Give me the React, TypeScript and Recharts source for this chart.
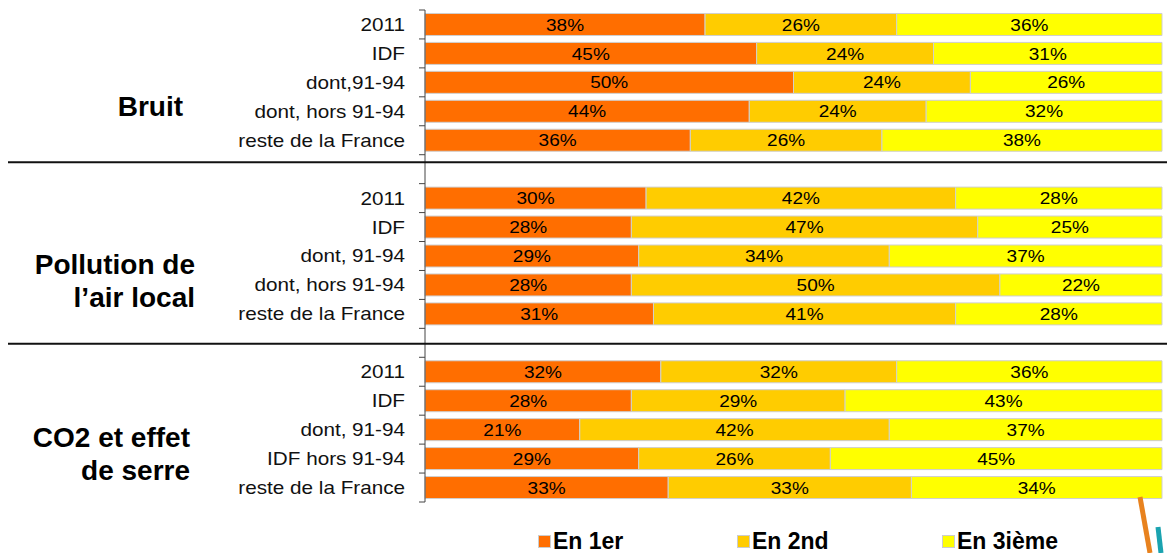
import React from "react";
import { BarChart, Bar, XAxis, YAxis, LabelList } from "recharts";

// ---- data ----
const groupTitles = [["Bruit"], ["Pollution de", "l’air local"], ["CO2 et effet", "de serre"]];

const rowLabels = [
    ["2011", "IDF", "dont,91-94", "dont, hors 91-94", "reste de la France"],
    ["2011", "IDF", "dont, 91-94", "dont, hors 91-94", "reste de la France"],
    ["2011", "IDF", "dont, 91-94", "IDF hors 91-94", "reste de la France"],
];

const first = [
    [38, 45, 50, 44, 36],
    [30, 28, 29, 28, 31],
    [32, 28, 21, 29, 33],
];
const second = [
    [26, 24, 24, 24, 26],
    [42, 47, 34, 50, 41],
    [32, 29, 42, 26, 33],
];
const third = [
    [36, 31, 26, 32, 38],
    [28, 25, 37, 22, 28],
    [36, 43, 37, 45, 34],
];

const seriesNames = ["En 1er", "En 2nd", "En 3ième"];
const seriesKeys = ["first", "second", "third"];
const colors = ["#FF6E00", "#FFCC00", "#FFFF00"];

type Row = {
    id: string;
    label: string;
    group: number;
    idx: number;
    gap?: number;
    first?: number;
    second?: number;
    third?: number;
};

const data: Row[] = [];
rowLabels.forEach((labels, g) => {
    labels.forEach((label, i) => {
        data.push({ id: `g${g}r${i}`, label, group: g, idx: i, first: first[g][i], second: second[g][i], third: third[g][i] });
    });
    if (g < rowLabels.length - 1) data.push({ id: `gap${g}`, label: "", group: g, idx: -1, gap: g });
});

// ---- layout ----
const W = 1167;
const H = 553;
const MARGIN = { top: 10, right: 5, bottom: 51, left: 0 };
const AXIS_W = 425;
const BAND = (H - MARGIN.top - MARGIN.bottom) / data.length;
const FONT = "'Liberation Sans', Arial, sans-serif";
const titleRight = [183, 195, 190];
const sepOffset = [-7, 1];
const legendX = [538, 737, 942];

function RowTick(props: any) {
    const { y, payload } = props;
    const row = data.find((d) => d.id === payload.value);
    if (!row) return null;
    const ax = MARGIN.left + AXIS_W;
    const isLast = row.id === data[data.length - 1].id;
    return (
        <g>
            <line x1={ax - 6} x2={ax} y1={y - BAND / 2} y2={y - BAND / 2} stroke="#444" />
            {isLast && <line x1={ax - 6} x2={ax} y1={y + BAND / 2} y2={y + BAND / 2} stroke="#444" />}
            {row.gap !== undefined && (
                <line x1={8} x2={W} y1={y + sepOffset[row.gap]} y2={y + sepOffset[row.gap]} stroke="#111" strokeWidth={2} />
            )}
            {row.label && (
                <g transform={`translate(405, ${y}) scale(1.15, 1)`}>
                    <text x={0} y={0} dy="0.36em" textAnchor="end" fontSize={18} fontFamily={FONT} fill="#111">
                        {row.label}
                    </text>
                </g>
            )}
            {row.idx === 2 &&
                groupTitles[row.group].map((line, k, arr) => (
                    <text
                        key={k}
                        x={titleRight[row.group]}
                        y={y + 24 + (k - (arr.length - 1) / 2) * 33}
                        dy="0.36em"
                        textAnchor="end"
                        fontSize={28}
                        fontWeight="bold"
                        fontFamily={FONT}
                        fill="#000"
                    >
                        {line}
                    </text>
                ))}
        </g>
    );
}

function PctLabel(props: any) {
    const { x, y, width, height, value } = props;
    if (value === undefined || value === null) return null;
    const cx = x + width / 2;
    const cy = y + height / 2;
    return (
        <g transform={`translate(${cx}, ${cy}) scale(1.12, 1)`}>
            <text x={0} y={0} dy="0.36em" textAnchor="middle" fontSize={17} fontFamily={FONT} fill="#000">
                {`${value}%`}
            </text>
        </g>
    );
}

export default function App() {
    return (
        <div style={{ position: "absolute", left: 0, top: 0, width: W, height: H, background: "#fff" }}>
            <BarChart width={W} height={H} data={data} layout="vertical" margin={MARGIN} barCategoryGap="12%">
                <XAxis type="number" domain={[0, 100]} hide />
                <YAxis
                    type="category"
                    dataKey="id"
                    width={AXIS_W}
                    interval={0}
                    tickLine={false}
                    axisLine={{ stroke: "#444" }}
                    tick={<RowTick />}
                />
                {seriesKeys.map((k, i) => (
                    <Bar key={k} dataKey={k} stackId="a" fill={colors[i]} stroke="#cfcfcf" strokeWidth={1} isAnimationActive={false}>
                        <LabelList dataKey={k} content={<PctLabel />} />
                    </Bar>
                ))}
            </BarChart>
            {seriesNames.map((name, i) => (
                <div
                    key={name}
                    style={{
                        position: "absolute",
                        left: legendX[i],
                        top: 528,
                        display: "flex",
                        alignItems: "center",
                        fontFamily: FONT,
                        fontWeight: "bold",
                        fontSize: 23,
                        lineHeight: "26px",
                        color: "#000",
                    }}
                >
                    <span style={{ width: 13, height: 13, background: colors[i], border: "1px solid #ccc", boxSizing: "border-box", marginRight: 2 }} />
                    {name}
                </div>
            ))}
            <svg style={{ position: "absolute", left: 0, top: 0, pointerEvents: "none" }} width={W} height={H}>
                <line x1={1140} y1={497} x2={1150} y2={553} stroke="#E8821E" strokeWidth={5} />
                <line x1={1158} y1={527} x2={1161} y2={553} stroke="#1AA3B0" strokeWidth={5} />
            </svg>
        </div>
    );
}
